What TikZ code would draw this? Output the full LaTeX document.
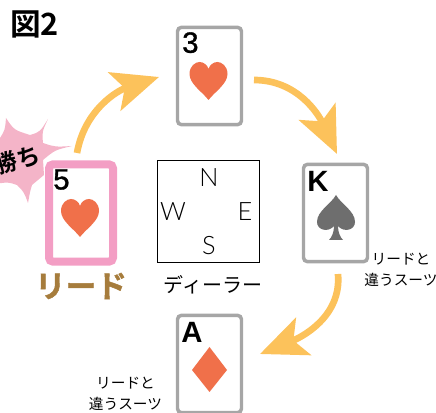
\documentclass[tikz,border=0pt]{standalone}
\usepackage{fontspec}
\usetikzlibrary{arrows.meta,positioning}
\setmainfont{Liberation Sans}
\newfontfamily\jpfont[BoldFont=Noto Sans CJK JP Bold]{Noto Sans CJK JP}
\newfontfamily\leadfont[FakeBold=1.5]{Noto Sans CJK JP Bold}
\newfontfamily\thinfont{Lato Light}
\newfontfamily\rankfont[FakeBold=1.2]{Liberation Sans}
\definecolor{suitred}{HTML}{F0704A}
\definecolor{suitgray}{HTML}{6E6E6E}
\definecolor{cardgray}{HTML}{A6A6A6}
\definecolor{leadpink}{HTML}{F39EC4}
\definecolor{burstpink}{HTML}{F4B4C8}
\definecolor{flowgold}{HTML}{FCC25B}
\definecolor{leadbrown}{HTML}{A67C3C}
\tikzset{
	heartpic/.pic={\fill[suitred] (0,19) .. controls (-6,11) and (-19,3) .. (-19,-7) .. controls (-19,-15) and (-13,-19) .. (-9,-19) .. controls (-5,-19) and (-1,-16) .. (0,-12) .. controls (1,-16) and (5,-19) .. (9,-19) .. controls (13,-19) and (19,-15) .. (19,-7) .. controls (19,3) and (6,11) .. (0,19) -- cycle;},
	card/.style = {draw=cardgray, line width=2.6pt, rounded corners=3pt, fill=white, minimum width=48pt, minimum height=73pt, inner sep=0pt},
	rank/.style = {font=\rankfont\fontsize{22}{22}\selectfont, inner sep=0pt},
	bigrank/.style = {font=\fontsize{22}{22}\selectfont\bfseries, inner sep=0pt},
	compass/.style = {font=\thinfont\fontsize{19}{19}\selectfont, inner sep=0pt},
	note/.style = {font=\jpfont\fontsize{11}{16}\selectfont, align=center, inner sep=0pt},
	flow/.style = {draw=flowgold, line width=5pt, -{Stealth[length=35pt,width=30pt,inset=8pt,flowgold]}}
}
\begin{document}
\begin{tikzpicture}[x=.75pt,y=-.75pt]
\path [use as bounding box] (0,0) rectangle (436,413);
\begin{scope}
\clip (0,0) rectangle (436,413);
\fill[burstpink] (6,118) .. controls (14,130) .. (30,135) .. controls (40,132) .. (48,119) .. controls (42,132) .. (43,143) .. controls (55,147) .. (72,146) .. controls (55,150) .. (43,160) -- (44,175) -- (32,185) .. controls (30,192) .. (28,203) .. controls (24,192) .. (17,185) .. controls (8,182) .. (-5,184) -- (-5,140) -- (0,138) .. controls (5,130) .. (6,118) -- cycle;
\node[rotate=15, inner sep=0pt, font=\jpfont\bfseries\fontsize{17.5}{17.5}\selectfont] (win) at (17,160) {勝ち};
\node[card, draw=leadpink, line width=6pt] (cardfive) at (81,213) {};
\node[card] (cardthree) at (209.5,76) {};
\node[card] (cardking) at (335.5,213) {};
\node[card] (cardace) at (209.5,364) {};
\end{scope}
\node[draw, line width=.8pt, minimum width=76pt, minimum height=76pt, inner sep=0pt] (table) at (208.5,211.5) {};
\node[compass] (north) at (209,178) {N};
\node[compass] (west) at (173,212) {W};
\node[compass] (east) at (245,212) {E};
\node[compass] (south) at (209,246) {S};
\path (80,218) pic {heartpic};
\path (208.5,81) pic {heartpic};
\fill[suitgray] (336,195) .. controls (331,204) and (317,211) .. (317,222) .. controls (317,230) and (328,233) .. (334,226) .. controls (334,232) and (332,237) .. (329,240) -- (343,240) .. controls (340,237) and (338,232) .. (338,226) .. controls (344,233) and (355,230) .. (355,222) .. controls (355,211) and (341,204) .. (336,195) -- cycle;
\fill[suitred] (192,370) -- (209.5,347) -- (227,370) -- (209.5,392) -- cycle;
\node[rank, anchor=north west] (labelthree) at (182,32) {3};
\node[rank, anchor=north west] (labelfive) at (53,169) {5};
\node[bigrank, anchor=north west] (labelking) at (307,171) {K};
\node[bigrank, anchor=north west] (labelace) at (181,322) {A};
\node[inner sep=0pt, font=\jpfont\bfseries\fontsize{23}{23}\selectfont] (title) at (34.5,24) {図2};
\node[inner sep=0pt, text=leadbrown, font=\leadfont\fontsize{23}{23}\selectfont] (lead) at (81,286) {リード};
\node[inner sep=0pt, font=\jpfont\fontsize{15}{15}\selectfont] (dealer) at (213,285) {ディーラー};
\node[note] (noteright) at (401,270) {リードと\\違うスーツ};
\node[note] (noteleft) at (125.5,394) {リードと\\違うスーツ};
\coordinate (fivestart) at (77,153);
\coordinate (threeend) at (159,77);
\coordinate (threestart) at (254,80);
\coordinate (kingend) at (337,154);
\coordinate (kingstart) at (338,274);
\coordinate (aceend) at (260,354);
\draw[flow] (fivestart) to[out=80, in=198] (threeend);
\draw[flow] (threestart) to[out=0, in=115] (kingend);
\draw[flow] (kingstart) to[out=-85, in=22] (aceend);
\end{tikzpicture}
\end{document}
